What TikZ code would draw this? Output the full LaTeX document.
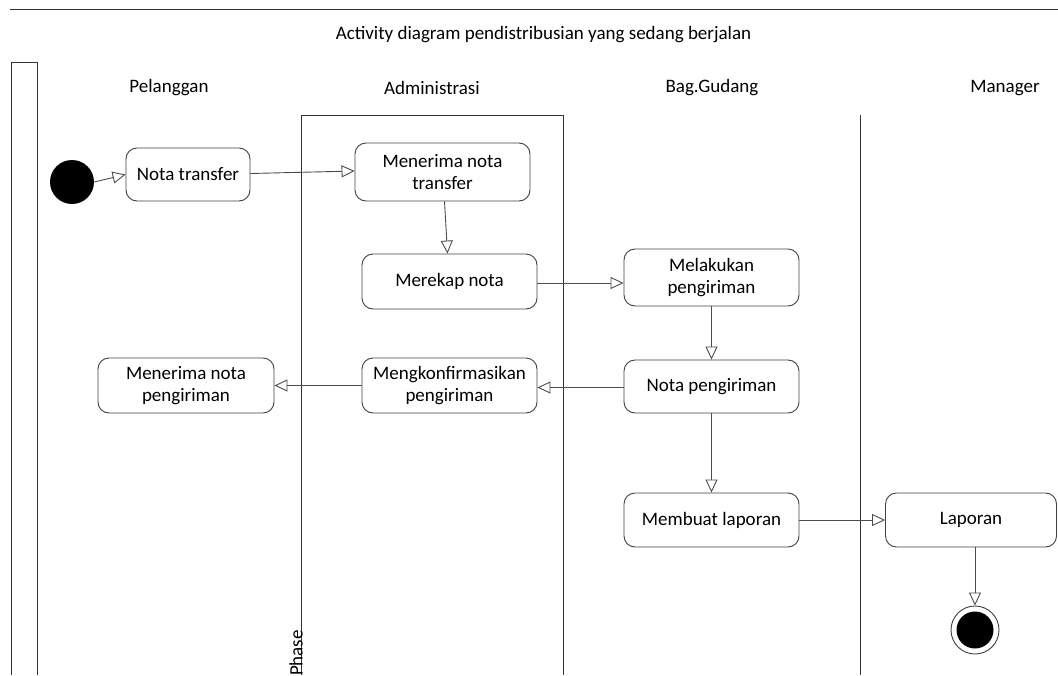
\documentclass[tikz,border=0pt]{standalone}
\usepackage{fontspec}
\setmainfont{Carlito}
\usetikzlibrary{arrows.meta}
\tikzset{
  lane/.style={draw=black!80, line width=0.9pt},
  act/.style={draw=black!75, line width=0.9pt, rounded corners=11pt, align=center,
    inner sep=0pt, font=\fontsize{19}{22}\selectfont},
  lbl/.style={font=\fontsize{19}{22}\selectfont, inner sep=0pt},
  flow/.style={draw=black!70, line width=0.9pt, -{Triangle[open, length=13pt, width=12pt]}},
}
\begin{document}
\begin{tikzpicture}[x=1pt, y=-1pt]
\useasboundingbox (0,0) rectangle (1058,675);

% frame, swimlanes
\draw[lane] (10,9) -- (1058,9);
\draw[lane] (11,675) -- (11,62) -- (37,62) -- (37,675);
\draw[lane] (301,675) -- (301,115) -- (563,115) -- (563,675);
\draw[lane] (860,115) -- (860,675);

\node[lbl] (title) at (543.5,35) {Activity diagram pendistribusian yang sedang berjalan};
\node[lbl] (l1) at (169,88) {Pelanggan};
\node[lbl] (l2) at (432,88) {Administrasi};
\node[lbl] (l3) at (712,88) {Bag.Gudang};
\node[lbl] (l4) at (1005,88) {Manager};
\node[lbl, rotate=90] (phase) at (296,653) {Phase};

% start / end
\node[circle, fill=black, minimum size=44pt, inner sep=0pt] (start) at (72,182) {};
\node[circle, draw=black!75, line width=0.9pt, fill=white, minimum size=48pt, inner sep=0pt] (end) at (975,630) {};
\node[circle, fill=black, minimum size=37pt, inner sep=0pt] (endin) at (975,630) {};

% activities
\node[act, minimum width=124pt, minimum height=53pt] (nt)  at (188,174.5) {Nota transfer};
\node[act, minimum width=175pt, minimum height=58pt] (mnt) at (442.5,172) {Menerima nota\\transfer};
\node[act, minimum width=175pt, minimum height=55pt] (mn)  at (449.5,281.5) {Merekap nota};
\node[act, minimum width=175pt, minimum height=57pt] (mp)  at (711.5,277.5) {Melakukan\\pengiriman};
\node[act, minimum width=175pt, minimum height=53pt] (np)  at (711.5,386.5) {Nota pengiriman};
\node[act, minimum width=175pt, minimum height=55pt] (mk)  at (449.5,385.5) {Mengkonfirmasikan\\pengiriman};
\node[act, minimum width=176pt, minimum height=55pt] (mnp) at (186,385.5) {Menerima nota\\pengiriman};
\node[act, minimum width=175pt, minimum height=54pt] (ml)  at (711.5,520) {Membuat laporan};
\node[act, minimum width=171pt, minimum height=54pt] (lap) at (971,520) {Laporan};

% flows
\draw[flow] (start.east) -- (nt.west);
\draw[flow] ([yshift=1pt]nt.east) -- ([yshift=1pt]mnt.west);
\draw[flow] ([xshift=2pt]mnt.south) -- ([xshift=-2pt]mn.north);
\draw[flow] ([yshift=-1.5pt]mn.east) -- ([yshift=-1.5pt]mn.east -| mp.west);
\draw[flow] (mp.south) -- (np.north);
\draw[flow] ([yshift=-1pt]np.west) -- ([yshift=-1pt]np.west -| mk.east);
\draw[flow] (mk.west) -- (mk.west -| mnp.east);
\draw[flow] (np.south) -- (ml.north);
\draw[flow] (ml.east) -- (lap.west);
\draw[flow] (lap.south -| end) -- (end.north);
\end{tikzpicture}
\end{document}
